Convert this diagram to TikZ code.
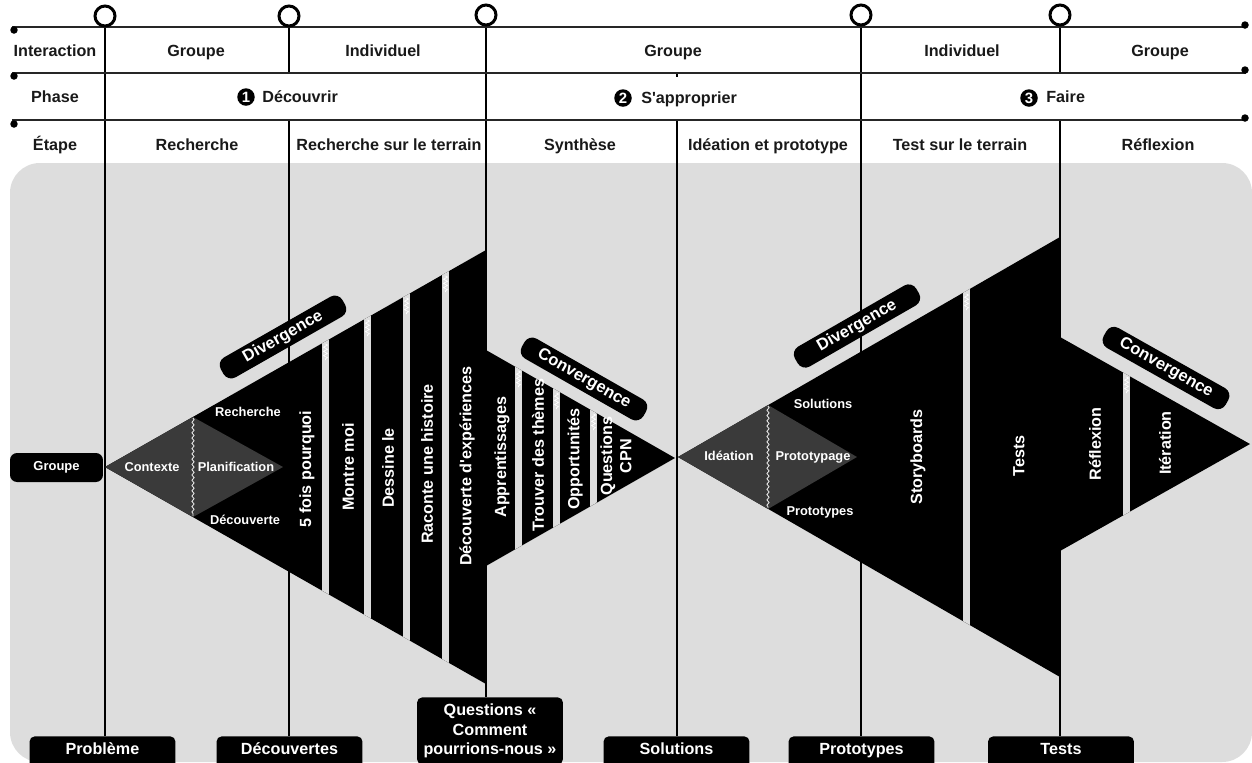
\documentclass[tikz,border=0pt]{standalone}
\usepackage{fontspec}
\setmainfont{Liberation Sans}
\newfontfamily\plainap{Liberation Sans}
\newcommand{\sq}{{\plainap '}}
\usetikzlibrary{decorations.pathmorphing}
\definecolor{bgc}{RGB}{221,221,221}
\definecolor{dia}{RGB}{58,58,58}
\definecolor{txt}{RGB}{25,25,25}
\pgfdeclarelayer{back}
\pgfsetlayers{back,main}
\begin{document}
\begin{tikzpicture}[x=0.02cm,y=-0.02cm,
  hdr/.style={font=\bfseries\fontsize{9.2}{11}\selectfont, text=txt, inner sep=0, text height=6.8pt, text depth=1.8pt},
  hline/.style={line width=1.1pt, black!85},
  vline/.style={line width=1.6pt, black},
  ring/.style={circle, draw=black, line width=1.7pt, fill=white, minimum size=0.4cm, inner sep=0},
  enddot/.style={circle, fill=black, inner sep=0, minimum size=0.15cm},
  numdot/.style={circle, fill=black, text=white, font=\bfseries\fontsize{8.5}{9}\selectfont, minimum size=0.35cm, inner sep=0},
  botbox/.style={fill=black, rounded corners=3pt, text=white, font=\bfseries\fontsize{9.2}{11}\selectfont, minimum width=2.92cm, inner ysep=2pt, text height=8.2pt, text depth=14pt, anchor=north},
  lbox/.style={fill=black, rounded corners=4pt, text=white, font=\bfseries\fontsize{7.4}{9}\selectfont, minimum width=1.86cm, minimum height=0.58cm, inner sep=0},
  small/.style={font=\bfseries\fontsize{7.3}{9}\selectfont, text=white, inner sep=0, text height=5.4pt, text depth=1.5pt},
  bar/.style={font=\bfseries\fontsize{9.2}{11}\selectfont, text=white, rotate=90, inner sep=0, align=center},
  tag/.style={fill=black, rounded corners=5pt, text=white, font=\bfseries\fontsize{9.4}{11}\selectfont, minimum width=2.8cm, minimum height=0.46cm, inner sep=0},
  wavy/.style={draw=bgc!70!white, line width=0.5pt, decorate, decoration={snake, amplitude=0.6pt, segment length=3pt}},
  chev/.style={draw=white, line width=0.4pt, decorate, decoration={zigzag, amplitude=1.1pt, segment length=2.4pt}},
  gapfill/.style={fill=bgc}
]
\useasboundingbox (0,0) rectangle (1252,762);
\begin{pgfonlayer}{back}
\fill[bgc, rounded corners=17pt] (10,163) rectangle (1252,762);
\end{pgfonlayer}

% header horizontal lines
\coordinate (l1a) at (12,27); \coordinate (l1b) at (1246,27);
\coordinate (l2a) at (12,73); \coordinate (l2b) at (1246,73);
\coordinate (l3a) at (12,120); \coordinate (l3b) at (1246,120);
\draw[hline] (l1a) -- (l1b);
\draw[hline] (l2a) -- (l2b);
\draw[hline] (l3a) -- (l3b);
\node[enddot] (d1) at (14,30) {};
\node[enddot] (d2) at (14,76) {};
\node[enddot] (d3) at (14,124) {};
\node[enddot] (d4) at (1245,25) {};
\node[enddot] (d5) at (1245,70) {};
\node[enddot] (d6) at (1245,118) {};

% bottom boxes
\node[botbox] (b1) at (102.5,736) {Problème};
\node[botbox] (b2) at (289.5,736) {Découvertes};
\node[fill=black, rounded corners=3pt, text=white, font=\bfseries\fontsize{9.2}{11.3}\selectfont, minimum width=2.92cm, inner ysep=3.5pt, align=center, anchor=north] (b3) at (490,697) {Questions «\\Comment\\pourrions-nous »};
\node[botbox] (b4) at (676.5,736) {Solutions};
\node[botbox] (b5) at (861.5,736) {Prototypes};
\node[botbox] (b6) at (1061,736) {Tests};

% rings
\node[ring] (c1) at (105,16) {};
\node[ring] (c2) at (289,16) {};
\node[ring] (c3) at (486,15) {};
\node[ring] (c4) at (861,15) {};
\node[ring] (c5) at (1060,15) {};

% vertical lines
\coordinate (k2a) at (289,73); \coordinate (k2b) at (289,120);
\coordinate (k4a) at (677,73); \coordinate (k4t) at (677,77); \coordinate (k4b) at (677,120);
\coordinate (k6a) at (1060,73); \coordinate (k6b) at (1060,120);
\begin{pgfonlayer}{back}
\draw[vline] (c1.south) -- (c1.south |- b1.north);
\draw[vline] (c2.south) -- (k2a);
\draw[vline] (k2b) -- (k2b |- b2.north);
\draw[vline] (c3.south) -- (c3.south |- b3.north);
\draw[vline] (k4a) -- (k4t);
\draw[vline] (k4b) -- (k4b |- b4.north);
\draw[vline] (c4.south) -- (c4.south |- b5.north);
\draw[vline] (c5.south) -- (k6a);
\draw[vline] (k6b) -- (k6b |- b6.north);
\end{pgfonlayer}

% header texts
\node[hdr] (hint) at (55,52) {Interaction};
\node[hdr] (hg1) at (196,52) {Groupe};
\node[hdr] (hi1) at (383,52) {Individuel};
\node[hdr] (hg2) at (673,52) {Groupe};
\node[hdr] (hi2) at (962,52) {Individuel};
\node[hdr] (hg3) at (1160,52) {Groupe};
\node[hdr] (hph) at (55,98) {Phase};
\node[numdot] (n1) at (246,97) {1};
\node[hdr, anchor=west] (p1) at (262,98) {Découvrir};
\node[numdot] (n2) at (623,98) {2};
\node[hdr, anchor=west] (p2) at (641,99) {S\sq approprier};
\node[numdot] (n3) at (1029,98) {3};
\node[hdr, anchor=west] (p3) at (1046,98) {Faire};
\node[hdr] (e0) at (55,146) {Étape};
\node[hdr] (e1) at (197,146) {Recherche};
\node[hdr] (e2) at (389,146) {Recherche sur le terrain};
\node[hdr] (e3) at (580,146) {Synthèse};
\node[hdr] (e4) at (768,146) {Idéation et prototype};
\node[hdr] (e5) at (960,146) {Test sur le terrain};
\node[hdr] (e6) at (1158,146) {Réflexion};

% left shape
\fill[black] (105,467) -- (486,250) -- (486,350) -- (675,458) -- (486,566) -- (486,684) -- cycle;
\fill[dia] (105,467) -- (193,417) -- (283,467) -- (193,517) -- cycle;
\draw[wavy] (193,418) -- (193,516);
\begin{scope}
\clip (105,467) -- (486,250) -- (486,350) -- (675,458) -- (486,566) -- (486,684) -- cycle;
\fill[gapfill] (322,200) rectangle (329,720);
\fill[gapfill] (364,200) rectangle (371,720);
\fill[gapfill] (403,200) rectangle (410,720);
\fill[gapfill] (442,200) rectangle (449,720);
\fill[gapfill] (515,200) rectangle (522,720);
\fill[gapfill] (553,200) rectangle (560,720);
\fill[gapfill] (590,200) rectangle (597,720);
\end{scope}
\draw[chev] (325.5,344) -- (325.5,360);
\draw[chev] (367.5,320) -- (367.5,336);
\draw[chev] (406.5,298) -- (406.5,314);
\draw[chev] (445.5,276) -- (445.5,292);
\draw[chev] (518.5,371) -- (518.5,387);
\draw[chev] (556.5,393) -- (556.5,409);
\draw[chev] (593.5,414) -- (593.5,430);

% right shape
\fill[black] (678,457) -- (1060,237) -- (1060,337) -- (1250,444) -- (1060,551) -- (1060,677) -- cycle;
\fill[dia] (678,457) -- (768,405) -- (857,457) -- (768,509) -- cycle;
\draw[wavy] (768,406) -- (768,508);
\begin{scope}
\clip (678,457) -- (1060,237) -- (1060,337) -- (1250,444) -- (1060,551) -- (1060,677) -- cycle;
\fill[gapfill] (963,200) rectangle (970,720);
\fill[gapfill] (1123,200) rectangle (1130,720);
\end{scope}
\draw[chev] (966.5,294) -- (966.5,310);
\draw[chev] (1126.5,377) -- (1126.5,393);

% left group box
\node[lbox] (grp) at (56.5,467.5) {Groupe};

% labels left
\node[small] (s1) at (248,413) {Recherche};
\node[small] (s2) at (152,468) {Contexte};
\node[small] (s3) at (236,468) {Planification};
\node[small] (s4) at (245,521) {Découverte};
\node[bar] (r1) at (307,469) {5 fois pourquoi};
\node[bar] (r2) at (348,467) {Montre moi};
\node[bar] (r3) at (388,468) {Dessine le};
\node[bar] (r4) at (427,464) {Raconte une histoire};
\node[bar] (r5) at (467,466) {Découverte d\sq expériences};
\node[bar] (r6) at (502,457) {Apprentissages};
\node[bar] (r7) at (538,455) {Trouver des thèmes};
\node[bar] (r8) at (575,459) {Opportunités};
\node[bar] (r9) at (616,456) {Questions\\CPN};

% labels right
\node[small] (s5) at (823,405) {Solutions};
\node[small] (s6) at (729,457) {Idéation};
\node[small] (s7) at (813,457) {Prototypage};
\node[small] (s8) at (820,512) {Prototypes};
\node[bar] (r10) at (918,457) {Storyboards};
\node[bar] (r11) at (1019,456) {Tests};
\node[bar] (r12) at (1095,444) {Réflexion};
\node[bar] (r13) at (1165,443) {Itération};

% tags
\node[tag, rotate=29.7] (tg1) at (283,337) {Divergence};
\node[tag, rotate=-29.7] (tg2) at (584,379) {Convergence};
\node[tag, rotate=29.9] (tg3) at (857,326) {Divergence};
\node[tag, rotate=-29.4] (tg4) at (1166,368) {Convergence};
\end{tikzpicture}
\end{document}
